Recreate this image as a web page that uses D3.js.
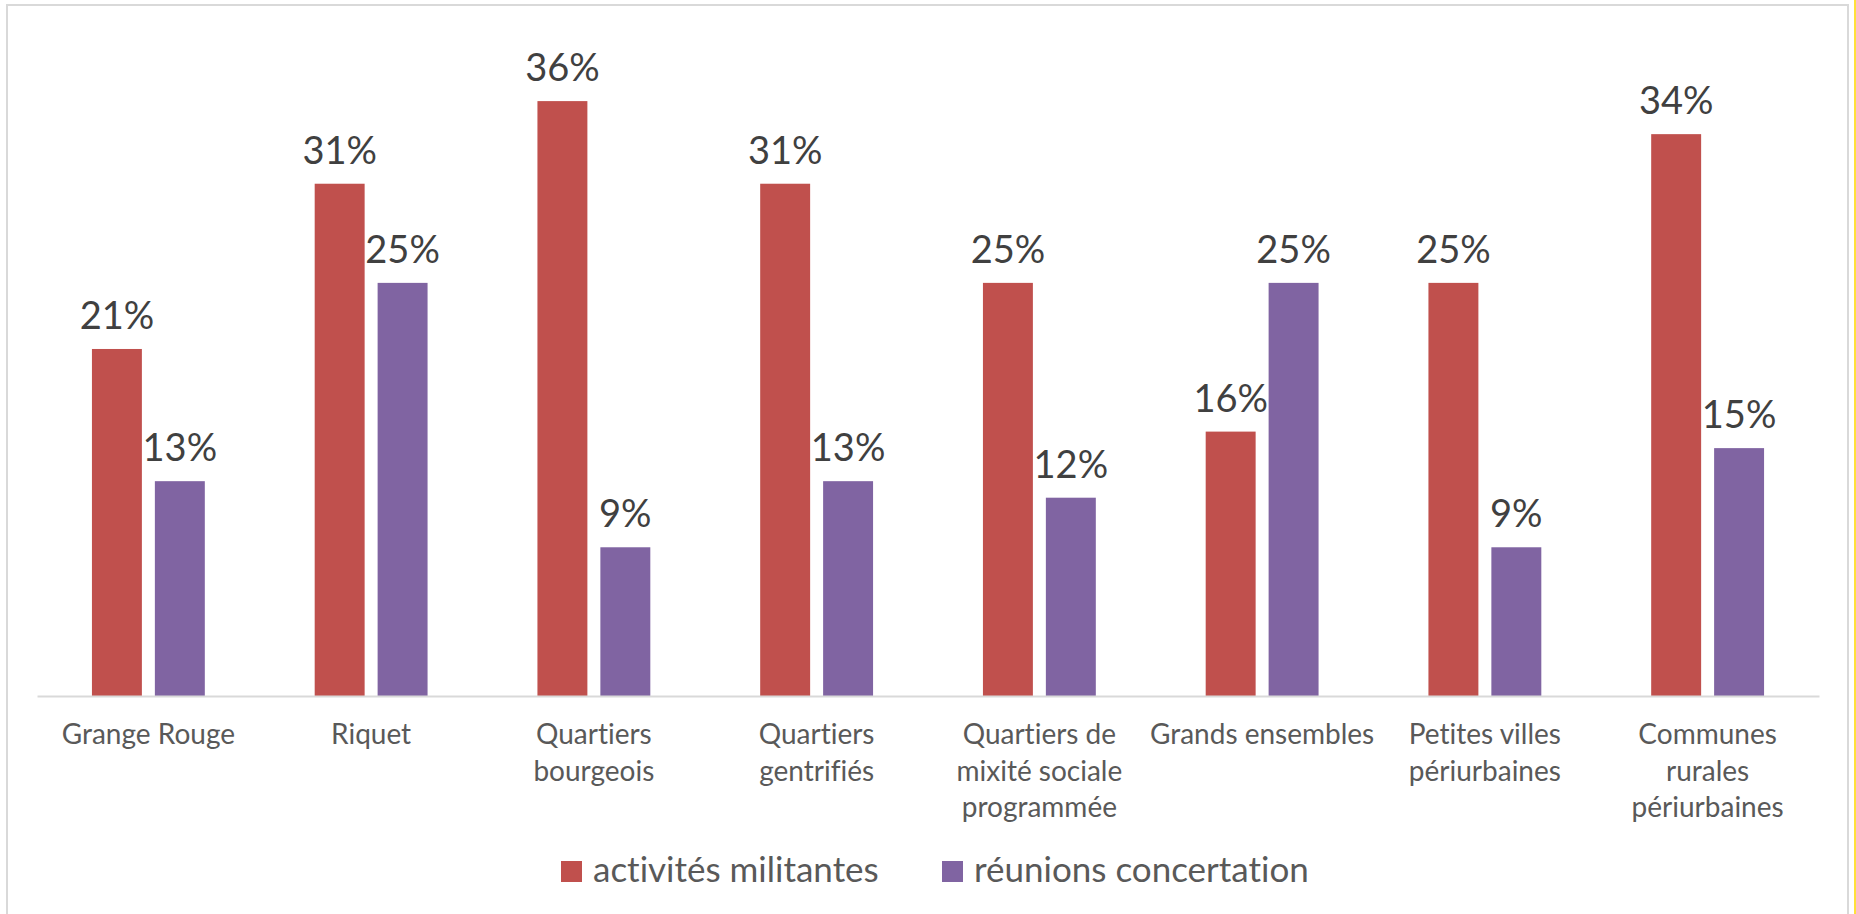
<!DOCTYPE html>
<html>
<head>
<meta charset="utf-8">
<script src="https://cdn.jsdelivr.net/npm/d3@7"></script>
<style>
  html, body { margin: 0; padding: 0; background: #fff; }
  svg { display: block; }
  text { font-variant-ligatures: none; font-feature-settings: "liga" 0; }
</style>
</head>
<body>
<svg id="chart" width="1856" height="914"></svg>
<script>
const categories = ["Grange Rouge", "Riquet", "Quartiers bourgeois", "Quartiers gentrifiés",
  "Quartiers de mixité sociale programmée", "Grands ensembles", "Petites villes périurbaines",
  "Communes rurales périurbaines"];
const categoryLines = [["Grange Rouge"], ["Riquet"], ["Quartiers", "bourgeois"], ["Quartiers", "gentrifiés"],
  ["Quartiers de", "mixité sociale", "programmée"], ["Grands ensembles"], ["Petites villes", "périurbaines"],
  ["Communes", "rurales", "périurbaines"]];
const seriesNames = ["activités militantes", "réunions concertation"];
const militantes = [0.21, 0.31, 0.36, 0.31, 0.25, 0.16, 0.25, 0.34];
const concertation = [0.13, 0.25, 0.09, 0.13, 0.12, 0.25, 0.09, 0.15];
const colors = ["#C0504D", "#8064A2"];

const svg = d3.select("#chart");
const W = 1856, H = 914;
const font = "Lato, 'Open Sans', sans-serif";

// Frame
svg.append("rect").attr("x", 7).attr("y", 5).attr("width", 1841).attr("height", 920)
  .attr("fill", "#fff").attr("stroke", "#d9d9d9").attr("stroke-width", 2);
svg.append("line").attr("x1", 1855).attr("x2", 1855).attr("y1", 0).attr("y2", H)
  .attr("stroke", "#FFE03A").attr("stroke-width", 2);

const left = 37, right = 1819, baseY = 696, topY = 35;
const x0 = d3.scaleBand().domain(categories).range([left, right]).padding(0);
const x1 = d3.scaleBand().domain(seriesNames).range([0, x0.bandwidth()])
  .paddingInner(13 / 63).paddingOuter(0.873);
const y = d3.scaleLinear().domain([0, 0.40]).range([baseY, topY]);

const rows = categories.map((c, i) => ({ cat: c, vals: [militantes[i], concertation[i]] }));

const g = svg.append("g");
const groups = g.selectAll("g.cat").data(rows).join("g")
  .attr("transform", d => `translate(${x0(d.cat)},0)`);

groups.selectAll("rect").data(d => d.vals.map((v, k) => ({ s: seriesNames[k], v, k })))
  .join("rect")
  .attr("x", d => x1(d.s)).attr("width", x1.bandwidth())
  .attr("y", d => y(d.v)).attr("height", d => baseY - y(d.v))
  .attr("fill", d => colors[d.k]);

groups.selectAll("text.lbl").data(d => d.vals.map((v, k) => ({ s: seriesNames[k], v, k })))
  .join("text").attr("class", "lbl")
  .attr("x", d => x1(d.s) + x1.bandwidth() / 2)
  .attr("y", d => y(d.v) - 20)
  .attr("text-anchor", "middle")
  .attr("font-family", font).attr("font-size", 38).attr("fill", "#404040")
  .text(d => d3.format(".0%")(d.v));

// Axis
const axis = d3.axisBottom(x0).tickSize(0).tickFormat("");
const ax = svg.append("g").attr("transform", `translate(0,${baseY})`).call(axis);
ax.select(".domain").attr("stroke", "#d9d9d9").attr("stroke-width", 2);

const tl = svg.append("g");
categories.forEach((c, i) => {
  const t = tl.append("text")
    .attr("x", x0(c) + x0.bandwidth() / 2).attr("y", 744)
    .attr("text-anchor", "middle")
    .attr("font-family", font).attr("font-size", 28).attr("fill", "#595959");
  categoryLines[i].forEach((ln, j) => {
    t.append("tspan").attr("x", x0(c) + x0.bandwidth() / 2).attr("dy", j === 0 ? 0 : 36.5).text(ln);
  });
});

// Legend
const legX = [561, 942];
seriesNames.forEach((s, k) => {
  svg.append("rect").attr("x", legX[k]).attr("y", 861).attr("width", 21).attr("height", 21).attr("fill", colors[k]);
  svg.append("text").attr("x", legX[k] + 32).attr("y", 882)
    .attr("font-family", font).attr("font-size", 35).attr("fill", "#595959").text(s);
});
</script>
</body>
</html>
